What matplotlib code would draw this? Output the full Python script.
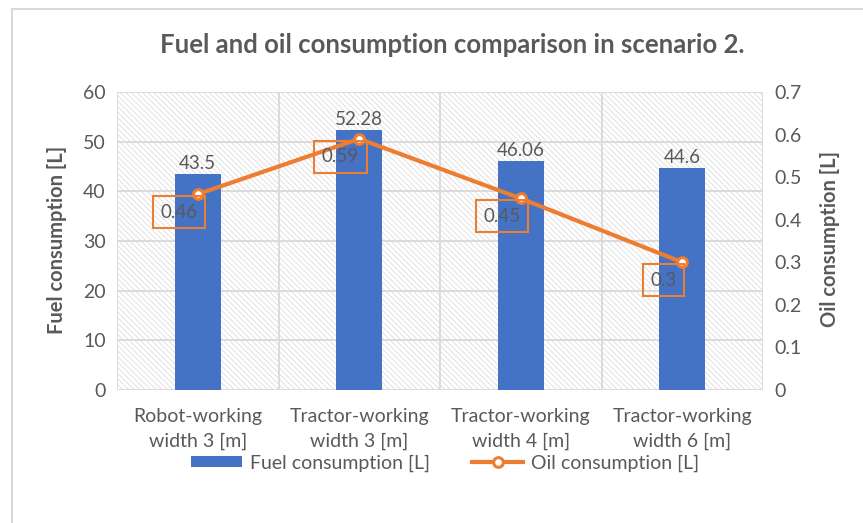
import matplotlib
matplotlib.use("Agg")
import matplotlib.pyplot as plt
from matplotlib.lines import Line2D
from matplotlib.patches import Patch, Rectangle

plt.rcParams['font.family'] = ['Lato', 'DejaVu Sans']
plt.rcParams['hatch.linewidth'] = 0.5
plt.rcParams['hatch.color'] = "#D6D6D6"

categories = ["Robot-working\nwidth 3 [m]", "Tractor-working\nwidth 3 [m]",
              "Tractor-working\nwidth 4 [m]", "Tractor-working\nwidth 6 [m]"]
fuel = [43.5, 52.28, 46.06, 44.6]
oil = [0.46, 0.59, 0.45, 0.3]
fuel_labels = ["43.5", "52.28", "46.06", "44.6"]
oil_labels = ["0.46", "0.59", "0.45", "0.3"]
fuel_ticks = [0, 10, 20, 30, 40, 50, 60]
oil_ticks = [0, 0.1, 0.2, 0.3, 0.4, 0.5, 0.6, 0.7]
oil_tick_labels = ["0", "0.1", "0.2", "0.3", "0.4", "0.5", "0.6", "0.7"]

BLUE = "#4472C4"
ORANGE = "#ED7D31"
TXT = "#595959"
GRID = "#D9D9D9"

fig = plt.figure(figsize=(8.63, 5.23), dpi=100)
ax = fig.add_axes([117/863, 1-390/523, (763-117)/863, (390-92)/523])
ax2 = ax.twinx()

x = list(range(len(categories)))
ax.set_xlim(-0.5, len(categories) - 0.5)
ax.set_ylim(0, 60)
ax2.set_ylim(0, 0.7)

# hatched background
bg = Rectangle((0, 0), 1, 1, transform=ax.transAxes, facecolor="white",
               edgecolor="#D6D6D6", hatch="\\\\\\\\\\\\", linewidth=0, zorder=0)
ax.add_patch(bg)

for y in fuel_ticks:
    ax.axhline(y, color=GRID, lw=1.3, zorder=0.5)
for b in [-0.5, 0.5, 1.5, 2.5, 3.5]:
    ax.axvline(b, color=GRID, lw=1.3, zorder=0.5)

ax.bar(x, fuel, width=0.285, color=BLUE, zorder=2)
for xi, v, lab in zip(x, fuel, fuel_labels):
    ax.annotate(lab, (xi, v), xytext=(0, 1.5), textcoords="offset points",
                ha="center", va="bottom", fontsize=13.5, color=TXT)

ax2.plot(x, oil, color=ORANGE, lw=3, marker="o", markersize=7,
         markerfacecolor="white", markeredgecolor=ORANGE, markeredgewidth=2.2, zorder=5)
for xi, v, lab in zip(x, oil, oil_labels):
    ax2.annotate(lab, (xi, v), xytext=(-13.5, -13), textcoords="offset points",
                 ha="center", va="center", fontsize=13.5, color=TXT,
                 bbox=dict(boxstyle="square,pad=0.4", facecolor="none",
                           edgecolor=ORANGE, linewidth=1.5), zorder=6)

ax2.set_zorder(ax.get_zorder() + 1)
ax2.patch.set_visible(False)

ax.set_xticks(x)
ax.set_xticklabels(categories, fontsize=14, color=TXT, linespacing=1.55)
ax.set_yticks(fuel_ticks)
ax.set_yticklabels([str(t) for t in fuel_ticks], fontsize=14, color=TXT)
ax2.set_yticks(oil_ticks)
ax2.set_yticklabels(oil_tick_labels, fontsize=14, color=TXT)
for a in (ax, ax2):
    a.tick_params(length=0, pad=8)
    for s in a.spines.values():
        s.set_visible(False)
ax.tick_params(axis="x", pad=13)

fig.text(57/863, 1-240/523, "Fuel consumption [L]", rotation=90, ha="center", va="center",
         fontsize=14.5, fontweight="bold", color=TXT)
fig.text(830/863, 1-239/523, "Oil consumption [L]", rotation=90, ha="center", va="center",
         fontsize=14.5, fontweight="bold", color=TXT)

fig.text(452/863, 1-45/523, "Fuel and oil consumption comparison in scenario 2.",
         ha="center", va="center", fontsize=18.5, fontweight="bold", color=TXT)

handles = [Patch(facecolor=BLUE, edgecolor="none", label="Fuel consumption [L]"),
           Line2D([0], [0], color=ORANGE, lw=3, marker="o", markersize=7,
                  markerfacecolor="white", markeredgecolor=ORANGE, markeredgewidth=2.2,
                  label="Oil consumption [L]")]
leg = fig.legend(handles=handles, loc="center", bbox_to_anchor=(445/863, 1-463/523),
                 ncol=2, frameon=False, fontsize=14, handlelength=2.6,
                 handleheight=0.5, columnspacing=2.2, handletextpad=0.4)
for t in leg.get_texts():
    t.set_color(TXT)

# outer chart border (top and left visible)
fig.add_artist(Line2D([12/863, 1], [1-9/523, 1-9/523], color="#D9D9D9", lw=1.5))
fig.add_artist(Line2D([12/863, 12/863], [0, 1-9/523], color="#D9D9D9", lw=1.5))

fig.savefig("out.png", dpi=100)
